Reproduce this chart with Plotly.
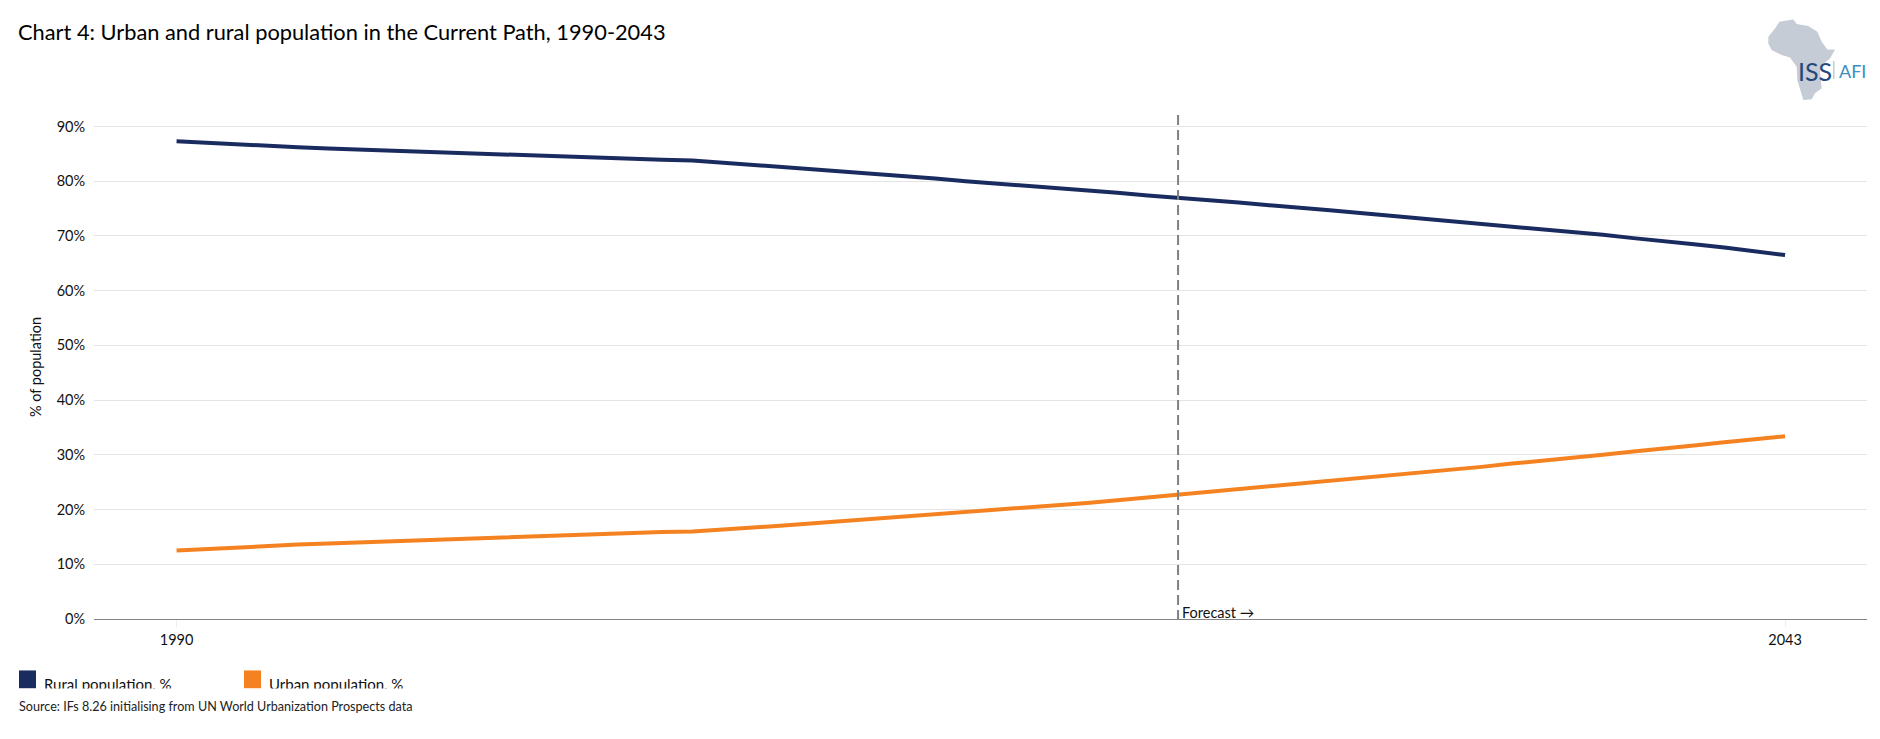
import plotly.graph_objects as go

W, H = 1880, 739
M_L, M_R, M_T, M_B = 94, 13, 115, 119.5
FONT = "Lato, Carlito, sans-serif"

years = list(range(1990, 2044))
rural = [87.3, 87.0, 86.7, 86.4, 86.2, 86.0, 85.8, 85.6, 85.4, 85.2, 85.0, 84.8, 84.6, 84.4, 84.3, 84.1, 83.9, 83.8,
         83.4, 83.0, 82.6, 82.2, 81.7, 81.3, 80.9, 80.5, 80.0, 79.6, 79.2, 78.8, 78.3, 77.9, 77.4, 77.0,
         76.6, 76.1, 75.6, 75.2, 74.7, 74.2, 73.7, 73.2, 72.8, 72.3, 71.8, 71.3, 70.7, 70.2, 69.6, 69.1, 68.5, 67.9, 67.2, 66.5]
urban = [12.5, 12.8, 13.1, 13.4, 13.6, 13.8, 14.0, 14.2, 14.4, 14.6, 14.8, 15.0, 15.2, 15.4, 15.5, 15.7, 15.9, 16.0,
         16.3, 16.7, 17.1, 17.5, 17.9, 18.3, 18.7, 19.1, 19.5, 19.9, 20.4, 20.8, 21.2, 21.7, 22.2, 22.7,
         23.2, 23.7, 24.2, 24.7, 25.2, 25.7, 26.2, 26.7, 27.3, 27.8, 28.4, 28.9, 29.5, 30.0, 30.6, 31.1, 31.7, 32.3, 32.8, 33.4]
y_ticks = [0, 10, 20, 30, 40, 50, 60, 70, 80, 90]
y_labels = ["0%", "10%", "20%", "30%", "40%", "50%", "60%", "70%", "80%", "90%"]
x_ticks = [1990, 2043]
forecast_year = 2023

NAVY = "#1a2b5f"
ORANGE = "#f58220"

fig = go.Figure()
fig.add_trace(go.Scatter(x=years, y=rural, mode="lines", name="Rural population, %",
                         line=dict(color=NAVY, width=4)))
fig.add_trace(go.Scatter(x=years, y=urban, mode="lines", name="Urban population, %",
                         line=dict(color=ORANGE, width=4)))


# paper coordinates are relative to the plot area, so convert from page pixels
def px(x):
    return (x - M_L) / (W - M_L - M_R)


def py(y):
    return (H - M_B - y) / (H - M_T - M_B)


def paper_text(x, y, text, size, color="#111111", **kw):
    fig.add_annotation(xref="paper", yref="paper", x=px(x), y=py(y), text=text, showarrow=False,
                       font=dict(family=FONT, size=size, color=color), xanchor=kw.pop("xanchor", "left"),
                       yanchor=kw.pop("yanchor", "middle"), borderpad=0, **kw)


def swatch(x0, y0, x1, y1, color):
    fig.add_shape(type="rect", xref="paper", yref="paper", x0=px(x0), x1=px(x1), y0=py(y0), y1=py(y1),
                  fillcolor=color, line_width=0, layer="above")


# forecast marker
fig.add_shape(type="line", xref="x", yref="paper", x0=forecast_year, x1=forecast_year, y0=1, y1=0,
              line=dict(color="#808080", width=2, dash="10px,5px"), layer="above")
fig.add_annotation(x=forecast_year, y=0, text="Forecast →", showarrow=False, xanchor="left", yanchor="bottom",
                   xshift=2, yshift=-4, font=dict(family=FONT, size=14.5, color="#111111"))

# title, legend, source
paper_text(17, 31, "Chart 4: Urban and rural population in the Current Path, 1990-2043", 21.8, color="#000000")
swatch(19, 671, 36, 689, NAVY)
swatch(244, 671, 261, 689, ORANGE)
paper_text(43, 685, "Rural population, %", 15)
paper_text(268, 685, "Urban population, %", 15)
# white box of the source line trims the legend text like in the original
fig.add_annotation(xref="paper", yref="paper", x=px(18), y=py(689), text="Source: IFs 8.26 initialising from UN World Urbanization Prospects data",
                   showarrow=False, xanchor="left", yanchor="top", align="left", width=600, height=34, valign="middle",
                   bgcolor="#ffffff", borderpad=0, font=dict(family=FONT, size=12.6, color="#222222"))

# logo
africa = [(85, 110), (105, 85), (118, 65), (160, 58), (170, 72), (205, 78), (232, 95), (245, 125), (262, 148),
          (285, 148), (270, 175), (245, 195), (240, 215), (245, 265), (225, 280), (215, 298), (190, 300),
          (172, 240), (170, 200), (150, 172), (125, 165), (95, 150), (85, 130)]
path = "M " + " L ".join(f"{px(1740 + a / 3):.5f},{py(b / 3):.5f}" for a, b in africa) + " Z"
fig.add_shape(type="path", xref="paper", yref="paper", path=path, fillcolor="#c5ccd6", line_width=0, layer="below")
paper_text(1797, 71, "ISS", 25, color="#23497a")
paper_text(1838, 71, "AFI", 18, color="#3a8fc4")
swatch(1833, 61, 1834.5, 79, "#b9d5c9")

fig.update_layout(
    width=W, height=H,
    margin=dict(l=M_L, r=M_R, t=M_T, b=M_B),
    paper_bgcolor="#ffffff", plot_bgcolor="#ffffff",
    showlegend=False,
    font=dict(family=FONT, size=14.5, color="#111111"),
    xaxis=dict(range=[1987.28, 2045.7], tickvals=x_ticks, ticktext=[str(v) for v in x_ticks], showgrid=False,
               zeroline=False, showline=True, linecolor="#858585", linewidth=1.2,
               ticks="outside", ticklen=7, tickcolor="#eeeeee", tickwidth=1, tickfont=dict(size=14.5)),
    yaxis=dict(range=[0, 92.1], tickvals=y_ticks, ticktext=y_labels, gridcolor="#e4e4e4", gridwidth=1, zeroline=False,
               showline=False, ticks="outside", ticklen=5, tickcolor="rgba(0,0,0,0)",
               title=dict(text="% of population", font=dict(size=14.5), standoff=11)),
)

fig.write_html("out.html", config=dict(displayModeBar=False), post_script="document.body.style.margin='0';")
